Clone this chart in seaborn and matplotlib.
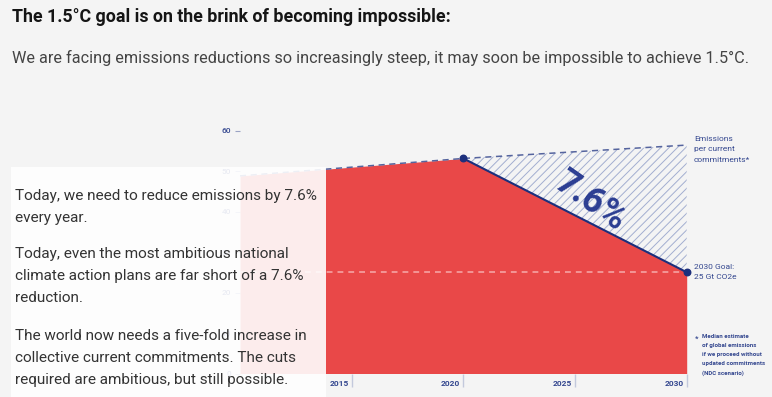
import matplotlib
matplotlib.use("Agg")
import matplotlib.pyplot as plt
import matplotlib.transforms as mtransforms
from matplotlib.patches import Rectangle
import seaborn as sns

# data (Gt CO2e)
hist_years = [2010, 2020]
hist_emissions = [48.8, 53.1]
target_years = [2020, 2030]
target_emissions = [53.1, 25.0]
ndc_years = [2020, 2030]
ndc_emissions = [53.1, 56.4]
goal = 25.0
x_ticks = [2015, 2020, 2025, 2030]
y_ticks = [0, 10, 20, 30, 40, 50, 60]

RED = "#e94848"
NAVY = "#1c2f7c"
LABEL = "#34478f"
HATCH = "#a3aed0"
BG = "#f4f4f4"

sns.set_theme(style="ticks")
plt.rcParams["font.family"] = ["Roboto", "DejaVu Sans"]
plt.rcParams["hatch.linewidth"] = 0.7
plt.rcParams["hatch.color"] = HATCH

W, H = 772, 397
fig = plt.figure(figsize=(W / 100, H / 100), dpi=100, facecolor=BG)
ax = fig.add_axes([240 / W, (H - 373.5) / H, (686.7 - 240) / W, (373.5 - 122) / H])
ax.set_facecolor("none")

years = hist_years + target_years[1:]
emissions = hist_emissions + target_emissions[1:]

# red area: pathway to the 1.5°C goal
ax.fill_between(years, 0, emissions, color=RED, lw=0, zorder=1)

# hatched gap between current commitments and the goal pathway
ax.fill_between(target_years, target_emissions, ndc_emissions, facecolor="none",
                edgecolor=HATCH, hatch="////", lw=0, zorder=2)

# goal line
ax.axhline(goal, color="#f6a3a3", lw=1.2, ls=(0, (3.5, 3)), zorder=3)

# emissions per current commitments (dashed)
sns.lineplot(x=hist_years + ndc_years[1:], y=hist_emissions + ndc_emissions[1:],
             ax=ax, color="#55649e", lw=1.1, linestyle=(0, (4, 3)), zorder=4)

# required reduction
sns.lineplot(x=target_years, y=target_emissions, ax=ax, color=NAVY, lw=1.5, zorder=5)
ax.scatter(target_years, target_emissions, color=NAVY, s=22, zorder=6, clip_on=False)

ax.text(2025.7, 42.6, "7.6%", rotation=-35, ha="center", va="center",
        fontsize=26, fontweight="bold", color="#2b3d92", zorder=7)

ax.set_xlim(2010, 2030)
ax.set_ylim(0, 62.1)
ax.set_xticks(x_ticks)
ax.set_xticklabels([str(y) for y in x_ticks])
ax.set_yticks(y_ticks)
ax.set_yticklabels([str(v) for v in y_ticks])
sns.despine(ax=ax, left=True, bottom=True)
ax.tick_params(axis="x", direction="out", length=9.5, width=1, color="#c3c9dc",
               pad=-4.8, labelsize=6, labelcolor=LABEL)
ax.tick_params(axis="y", direction="out", length=3.5, width=0.8, color="#9aa3c4",
               pad=3, labelsize=6, labelcolor=LABEL)
offset = mtransforms.ScaledTranslation(-3 / 100, 0, fig.dpi_scale_trans)
for lab in ax.get_xticklabels():
    lab.set_ha("right")
    lab.set_fontweight("bold")
    lab.set_transform(lab.get_transform() + offset)
for lab in ax.get_yticklabels():
    lab.set_fontweight("medium")
ax.grid(False)

# right-hand annotations
fig.text(694 / W, 1 - 149.5 / H, "Emissions\nper current\ncommitments*", fontsize=6,
         color=LABEL, va="center", ha="left", linespacing=1.9)
fig.text(694 / W, 1 - 272 / H, "2030 Goal:\n25 Gt CO2e", fontsize=6,
         color=LABEL, va="center", ha="left", linespacing=1.9)
fig.text(695 / W, 1 - 338 / H, "*", fontsize=5.5, color=LABEL, fontweight="bold",
         va="center", ha="left")
fig.text(702 / W, 1 - 355 / H,
         "Median estimate\nof global emissions\nif we proceed without\nupdated commitments\n(NDC scenario)",
         fontsize=4.4, color=LABEL, fontweight="bold", va="center", ha="left",
         linespacing=1.95)

# title and subtitle
fig.text(12 / W, 1 - 17 / H, "The 1.5°C goal is on the brink of becoming impossible:",
         fontsize=12.8, fontweight="bold", color="#151515", va="center", ha="left")
fig.text(12 / W, 1 - 58 / H,
         "We are facing emissions reductions so increasingly steep, it may soon be impossible to achieve 1.5°C.",
         fontsize=11.7, color="#444444", va="center", ha="left")

# white text panel over the left part of the chart
fig.add_artist(Rectangle((11 / W, 0), (326 - 11) / W, (H - 167) / H,
                         transform=fig.transFigure, facecolor="white", alpha=0.9,
                         lw=0, zorder=5))
paragraphs = [
    ("Today, we need to reduce emissions by 7.6%\nevery year.", 207),
    ("Today, even the most ambitious national\nclimate action plans are far short of a 7.6%\nreduction.", 276),
    ("The world now needs a five-fold increase in\ncollective current commitments. The cuts\nrequired are ambitious, but still possible.", 358),
]
for txt, yc in paragraphs:
    fig.text(15 / W, 1 - yc / H, txt, fontsize=11, color="#333333", va="center",
             ha="left", linespacing=1.7, zorder=6)

fig.savefig("out.png", dpi=100, facecolor=BG)
